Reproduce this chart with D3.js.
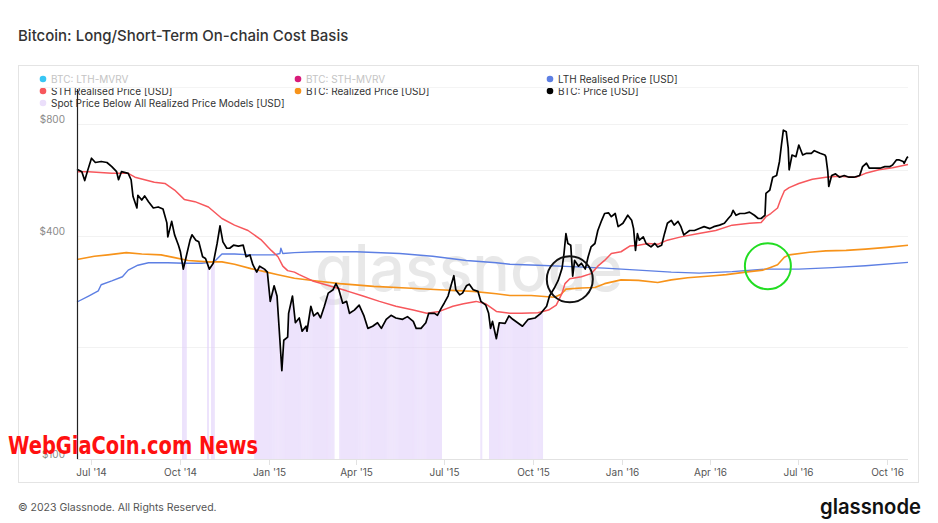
<!DOCTYPE html>
<html>
<head>
<meta charset="utf-8">
<script src="https://cdn.jsdelivr.net/npm/d3@7"></script>
<style>
  html, body { margin: 0; padding: 0; background: #fff; }
  svg { display: block; font-family: Inter, "Noto Sans", sans-serif; }
</style>
</head>
<body>
<svg id="chart" width="938" height="523"></svg>
<script>
// ---------------- DATA ----------------
const chartTitle = "Bitcoin: Long/Short-Term On-chain Cost Basis";

const priceSeries = [
["2014-06-16",604],["2014-06-21",595],["2014-06-24",563],["2014-06-27",599],["2014-07-01",647],
["2014-07-05",630],["2014-07-11",634],["2014-07-17",630],["2014-07-22",614],["2014-07-27",595],
["2014-07-29",566],["2014-08-01",595],["2014-08-08",589],["2014-08-11",566],["2014-08-13",510],
["2014-08-17",475],["2014-08-18",514],["2014-08-22",499],["2014-08-25",512],["2014-08-29",494],
["2014-09-03",475],["2014-09-08",478],["2014-09-13",472],["2014-09-17",433],["2014-09-18",397],
["2014-09-22",437],["2014-09-25",402],["2014-09-29",377],["2014-10-01",362],["2014-10-04",325],
["2014-10-07",351],["2014-10-11",389],["2014-10-13",402],["2014-10-17",389],["2014-10-20",385],
["2014-10-24",351],["2014-10-27",347],["2014-10-31",325],["2014-11-04",337],["2014-11-08",381],
["2014-11-11",425],["2014-11-14",385],["2014-11-18",370],["2014-11-21",370],["2014-11-25",377],
["2014-11-30",375],["2014-12-05",377],["2014-12-08",351],["2014-12-12",355],["2014-12-15",334],
["2014-12-19",319],["2014-12-22",331],["2014-12-27",325],["2014-12-30",319],["2015-01-02",266],
["2015-01-06",293],["2015-01-09",275],["2015-01-12",209],["2015-01-14",173],["2015-01-16",209],
["2015-01-20",213],["2015-01-21",247],["2015-01-25",275],["2015-01-28",233],["2015-02-01",240],
["2015-02-04",221],["2015-02-08",228],["2015-02-09",221],["2015-02-13",258],["2015-02-16",243],
["2015-02-20",248],["2015-02-23",240],["2015-02-27",258],["2015-03-03",280],["2015-03-08",286],
["2015-03-11",297],["2015-03-14",286],["2015-03-18",263],["2015-03-22",266],["2015-03-25",247],
["2015-03-30",252],["2015-04-04",260],["2015-04-09",243],["2015-04-13",225],["2015-04-18",228],
["2015-04-23",233],["2015-04-27",225],["2015-05-02",238],["2015-05-07",244],["2015-05-12",240],
["2015-05-19",238],["2015-05-24",242],["2015-05-30",235],["2015-06-02",225],["2015-06-07",225],
["2015-06-12",233],["2015-06-15",247],["2015-06-21",247],["2015-06-24",244],["2015-06-28",255],
["2015-07-01",263],["2015-07-05",275],["2015-07-08",293],["2015-07-11",312],["2015-07-13",286],
["2015-07-17",277],["2015-07-20",280],["2015-07-24",293],["2015-07-27",296],["2015-07-31",286],
["2015-08-05",283],["2015-08-08",266],["2015-08-13",260],["2015-08-16",247],["2015-08-18",225],
["2015-08-20",235],["2015-08-24",211],["2015-08-27",233],["2015-09-02",232],["2015-09-06",243],
["2015-09-10",238],["2015-09-15",233],["2015-09-20",228],["2015-09-26",238],["2015-10-03",240],
["2015-10-09",247],["2015-10-15",258],["2015-10-18",275],["2015-10-23",289],["2015-10-27",303],
["2015-10-31",327],["2015-11-02",358],["2015-11-04",405],["2015-11-06",381],["2015-11-09",377],
["2015-11-11",311],["2015-11-13",343],["2015-11-17",331],["2015-11-20",337],["2015-11-24",325],
["2015-11-27",351],["2015-11-30",373],["2015-12-04",381],["2015-12-07",413],["2015-12-11",440],
["2015-12-14",459],["2015-12-18",461],["2015-12-21",450],["2015-12-25",459],["2015-12-28",423],
["2016-01-02",432],["2016-01-07",454],["2016-01-11",440],["2016-01-13",418],["2016-01-15",365],
["2016-01-17",405],["2016-01-19",389],["2016-01-23",397],["2016-01-26",381],["2016-01-31",373],
["2016-02-04",381],["2016-02-07",373],["2016-02-11",377],["2016-02-14",405],["2016-02-17",432],
["2016-02-21",440],["2016-02-24",427],["2016-02-28",437],["2016-03-02",423],["2016-03-05",402],
["2016-03-11",413],["2016-03-16",413],["2016-03-21",418],["2016-03-26",423],["2016-04-01",418],
["2016-04-05",423],["2016-04-11",427],["2016-04-16",432],["2016-04-20",445],["2016-04-23",454],
["2016-04-25",468],["2016-04-28",454],["2016-05-02",459],["2016-05-07",459],["2016-05-12",463],
["2016-05-17",454],["2016-05-21",445],["2016-05-24",445],["2016-05-28",454],["2016-05-29",520],
["2016-06-02",531],["2016-06-05",575],["2016-06-09",581],["2016-06-12",634],["2016-06-14",702],
["2016-06-16",770],["2016-06-19",762],["2016-06-21",690],["2016-06-22",602],["2016-06-25",660],
["2016-06-29",653],["2016-07-02",702],["2016-07-06",660],["2016-07-10",667],["2016-07-15",667],
["2016-07-18",678],["2016-07-24",667],["2016-07-29",660],["2016-07-30",653],["2016-08-01",595],
["2016-08-02",543],["2016-08-05",581],["2016-08-09",587],["2016-08-13",575],["2016-08-18",581],
["2016-08-23",575],["2016-08-28",575],["2016-09-03",581],["2016-09-06",614],["2016-09-10",627],
["2016-09-13",608],["2016-09-18",608],["2016-09-24",608],["2016-09-29",614],["2016-10-04",614],
["2016-10-07",620],["2016-10-11",640],["2016-10-14",640],["2016-10-18",634],["2016-10-19",627],
["2016-10-22",649],["2016-10-23",653]
];

const sthRealised = [
["2014-06-16",595],["2014-06-28",595],["2014-07-22",589],["2014-08-08",589],["2014-08-15",575],
["2014-08-25",566],["2014-09-04",557],["2014-09-15",553],["2014-09-25",531],["2014-10-05",501],
["2014-10-16",494],["2014-10-30",478],["2014-11-13",445],["2014-11-26",427],["2014-12-10",413],
["2014-12-24",389],["2015-01-03",365],["2015-01-10",351],["2015-01-15",331],["2015-01-20",322],
["2015-01-27",319],["2015-02-01",314],["2015-02-15",302],["2015-03-04",293],["2015-03-22",284],
["2015-04-08",275],["2015-04-25",266],["2015-05-12",258],["2015-05-30",252],["2015-06-13",247],
["2015-06-26",250],["2015-07-10",258],["2015-07-21",262],["2015-08-03",266],["2015-08-13",262],
["2015-08-24",250],["2015-09-07",247],["2015-09-19",247],["2015-10-06",248],["2015-10-17",252],
["2015-10-25",260],["2015-10-31",280],["2015-11-03",297],["2015-11-08",306],["2015-11-20",310],
["2015-11-30",316],["2015-12-07",331],["2015-12-14",343],["2015-12-21",358],["2015-12-31",362],
["2016-01-09",375],["2016-01-18",377],["2016-01-28",381],["2016-02-07",379],["2016-02-17",389],
["2016-03-02",397],["2016-03-19",405],["2016-04-07",413],["2016-04-24",427],["2016-05-12",432],
["2016-05-24",434],["2016-05-29",450],["2016-06-03",459],["2016-06-10",475],["2016-06-13",499],
["2016-06-17",528],["2016-06-22",539],["2016-07-02",553],["2016-07-16",568],["2016-07-30",575],
["2016-08-12",578],["2016-08-30",575],["2016-09-09",589],["2016-09-23",602],["2016-10-07",610],
["2016-10-23",622]
];

const realizedPrice = [
["2014-06-16",345],["2014-07-04",352],["2014-07-18",355],["2014-08-06",360],["2014-08-22",357],
["2014-09-11",355],["2014-09-25",349],["2014-10-09",343],["2014-10-30",340],["2014-11-13",340],
["2014-11-26",335],["2014-12-13",326],["2014-12-27",320],["2015-01-10",314],["2015-01-27",307],
["2015-02-19",302],["2015-03-15",297],["2015-04-19",292],["2015-05-23",289],["2015-06-26",286],
["2015-07-31",283],["2015-08-24",279],["2015-09-07",276],["2015-09-29",276],["2015-10-23",273],
["2015-10-30",278],["2015-11-04",287],["2015-11-20",289],["2015-12-04",290],["2015-12-14",297],
["2015-12-31",304],["2016-01-18",303],["2016-02-07",299],["2016-02-21",304],["2016-03-09",308],
["2016-04-05",312],["2016-04-18",314],["2016-05-12",320],["2016-05-26",323],["2016-06-02",328],
["2016-06-10",334],["2016-06-17",350],["2016-06-22",355],["2016-07-13",361],["2016-07-30",364],
["2016-08-20",365],["2016-09-09",368],["2016-10-01",372],["2016-10-23",377]
];

const lthRealised = [
["2014-06-16",265],["2014-06-28",275],["2014-07-08",284],["2014-07-11",295],["2014-07-22",302],
["2014-08-02",310],["2014-08-08",323],["2014-08-18",333],["2014-08-29",338],["2014-09-18",338],
["2014-10-05",337],["2014-10-23",337],["2014-11-05",340],["2014-11-13",357],["2014-11-26",357],
["2014-12-13",355],["2015-01-06",355],["2015-01-12",358],["2015-01-13",370],["2015-01-15",358],
["2015-01-27",360],["2015-02-19",362],["2015-04-01",362],["2015-05-16",358],["2015-06-19",352],
["2015-07-24",343],["2015-08-24",338],["2015-09-07",335],["2015-10-06",333],["2015-11-10",330],
["2015-12-14",327],["2016-01-18",323],["2016-02-21",319],["2016-03-21",317],["2016-04-24",320],
["2016-05-29",325],["2016-07-02",325],["2016-08-06",328],["2016-09-09",332],["2016-10-23",339]
];

// periods in which spot price sat below all realized price models
const belowAllRanges = [
["2014-10-03","2014-10-07"],["2014-10-29","2014-10-30"],["2014-11-02","2014-11-05"],
["2014-12-17","2015-03-09"],["2015-03-15","2015-06-28"],["2015-08-08","2015-08-09"],
["2015-08-17","2015-10-11"]
];

const xDomain = ["2014-06-16","2016-10-23"];
const xTickDates = ["2014-07-01","2014-10-01","2015-01-01","2015-04-01","2015-07-01","2015-10-01",
                    "2016-01-01","2016-04-01","2016-07-01","2016-10-01"];
const yDomain = [100, 800];
const yGridValues = [100, 200, 400, 600, 800];
const yLabelValues = [100, 400, 800];

const legendItems = [
  {name:"BTC: LTH-MVRV", color:"#38c6f4", muted:true},
  {name:"BTC: STH-MVRV", color:"#d81b7a", muted:true},
  {name:"LTH Realised Price [USD]", color:"#5d7fe3", muted:false},
  {name:"STH Realised Price [USD]", color:"#f7575c", muted:false},
  {name:"BTC: Realized Price [USD]", color:"#f7931a", muted:false},
  {name:"BTC: Price [USD]", color:"#000000", muted:false},
  {name:"Spot Price Below All Realized Price Models [USD]", color:"#ebdffb", muted:false}
];

// annotation circles: [date, value]
const annotations = [
  {at:["2015-11-08", 305], color:"#111111"},
  {at:["2016-05-31", 331], color:"#22dd22"}
];

// ---------------- DRAW ----------------
const parse = d3.timeParse("%Y-%m-%d");
const svg = d3.select("#chart");

const plot = {left:77, right:908, top:124, bottom:459};

const x = d3.scaleTime().domain(xDomain.map(parse)).range([plot.left, plot.right]);
const y = d3.scaleLog().domain(yDomain).range([plot.bottom, plot.top]);

// title
svg.append("text").attr("x",18).attr("y",41).text(chartTitle)
  .attr("font-size",15).attr("font-weight",500).attr("fill","#333");

// card
svg.append("rect").attr("x",18.5).attr("y",65.5).attr("width",900).attr("height",417)
  .attr("fill","#fff").attr("stroke","#e4e4e4");

// legend
const colX = [43, 298, 550];
const rowY = [79, 91, 103];
const legend = svg.append("g");
legendItems.forEach((it,i)=>{
  const cx = colX[i%3], cy = rowY[Math.floor(i/3)];
  legend.append("circle").attr("cx",cx).attr("cy",cy).attr("r",3.3).attr("fill",it.color);
  legend.append("text").attr("x",cx+8).attr("y",cy+3.6).text(it.name)
    .attr("font-size",10).attr("fill", it.muted ? "#c4c4c4" : "#333");
});
svg.append("line").attr("x1",40).attr("x2",plot.right).attr("y1",87.5).attr("y2",87.5)
  .attr("stroke","#f4f4f4");

// grid
svg.append("g").selectAll("line").data(yGridValues).join("line")
  .attr("x1",plot.left).attr("x2",plot.right)
  .attr("y1",d=>Math.round(y(d))+0.5).attr("y2",d=>Math.round(y(d))+0.5)
  .attr("stroke",d=> d===100 ? "#e2e2e2" : "#f2f2f2");

// y labels
svg.append("g").selectAll("text").data(yLabelValues).join("text")
  .attr("x",65).attr("y",d=>y(d)-1).attr("text-anchor","end")
  .attr("font-size",10).attr("fill","#8a8a8a").text(d=>"$"+d);

// x axis ticks and labels
const fmt = d3.timeFormat("%b '%y");
const xt = svg.append("g");
xTickDates.map(parse).forEach(d=>{
  const px = Math.round(x(d))+0.5;
  xt.append("line").attr("x1",px).attr("x2",px).attr("y1",plot.bottom).attr("y2",plot.bottom+6)
    .attr("stroke","#e2e2e2");
  xt.append("text").attr("x",px).attr("y",475.5).attr("text-anchor","middle")
    .attr("font-size",10).attr("fill","#555").text(fmt(d));
});

// watermark
svg.append("text").attr("x",469).attr("y",291).attr("text-anchor","middle")
  .attr("font-size",64).attr("font-weight",500).attr("fill","#000").attr("opacity",0.085)
  .attr("textLength",308).attr("lengthAdjust","spacingAndGlyphs").text("glassnode");

// price area clip for "below all" bars
const priceData = priceSeries.map(([d,v])=>({date:parse(d), v}));
const area = d3.area().x(d=>x(d.date)).y0(plot.bottom).y1(d=>y(d.v));
svg.append("clipPath").attr("id","underPrice").append("path").attr("d",area(priceData));

const barDays = [];
belowAllRanges.forEach(([a,b])=>{
  d3.timeDay.range(parse(a), d3.timeDay.offset(parse(b),1)).forEach(d=>barDays.push(d));
});
const dayW = x(d3.timeDay.offset(parse(xDomain[0]),1)) - x(parse(xDomain[0]));
svg.append("g").attr("clip-path","url(#underPrice)").selectAll("rect").data(barDays).join("rect")
  .attr("x",d=>x(d)-dayW*0.3).attr("width",dayW*0.6)
  .attr("y",plot.top).attr("height",plot.bottom-plot.top)
  .attr("fill","#e0cffa");

// lines
const line = d3.line().x(d=>x(d.date)).y(d=>y(d.v));
function drawSeries(arr, color, w){
  svg.append("path").datum(arr.map(([d,v])=>({date:parse(d), v})))
    .attr("d",line).attr("fill","none").attr("stroke",color)
    .attr("stroke-width",w).attr("stroke-linejoin","round");
}
drawSeries(lthRealised, "#5d7fe3", 1.4);
drawSeries(realizedPrice, "#f7931a", 1.6);
drawSeries(sthRealised, "#f7575c", 1.5);
drawSeries(priceSeries, "#000", 1.7);

// vertical axis-like line at chart start
svg.append("line").attr("x1",plot.left+0.5).attr("x2",plot.left+0.5)
  .attr("y1",89).attr("y2",plot.bottom).attr("stroke","#222").attr("stroke-width",1.2);

// annotation circles
annotations.forEach(a=>{
  svg.append("circle").attr("cx",x(parse(a.at[0]))).attr("cy",y(a.at[1])).attr("r",23)
    .attr("fill","none").attr("stroke",a.color).attr("stroke-width",2);
});

// overlay text
svg.append("text").attr("x",8).attr("y",454).text("WebGiaCoin.com News")
  .attr("font-family","'DejaVu Sans Condensed','DejaVu Sans',sans-serif").attr("font-weight",700)
  .attr("font-size",25).attr("fill","#ff1010")
  .attr("textLength",250).attr("lengthAdjust","spacingAndGlyphs");

// footer
svg.append("text").attr("x",18).attr("y",511).text("© 2023 Glassnode. All Rights Reserved.")
  .attr("font-size",10.5).attr("fill","#555");
svg.append("text").attr("x",921).attr("y",514).attr("text-anchor","end").text("glassnode")
  .attr("font-size",21).attr("font-weight",600).attr("fill","#111")
  .attr("textLength",101).attr("lengthAdjust","spacingAndGlyphs");
</script>
</body>
</html>
